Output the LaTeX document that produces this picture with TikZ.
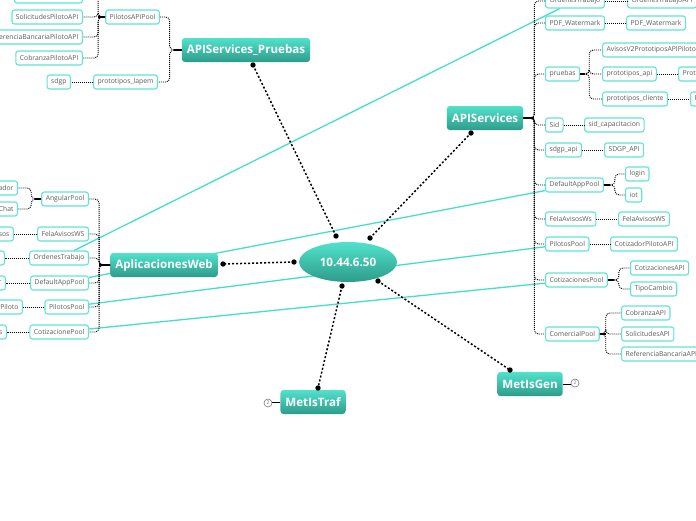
\documentclass[tikz,border=0pt]{standalone}
\usepackage{fontspec}
\setmainfont{Open Sans}
\usetikzlibrary{shapes.geometric}
\definecolor{MapInk}{HTML}{5C5C5C}
\definecolor{MapTeal}{HTML}{50E2CB}
\definecolor{MapTealDark}{HTML}{2E9C8A}
\definecolor{MapEdge}{HTML}{62E4D2}
\definecolor{MapRelation}{HTML}{45DEC8}
\definecolor{MapBadge}{HTML}{7A7A7A}
\pgfdeclarelayer{background}
\pgfsetlayers{background,main}
\tikzset{
  every node/.style={text=MapInk},
  leaf/.style={draw=MapEdge, line width=1.1pt, fill=white, rounded corners=2.5pt,
    minimum height=14pt, inner xsep=4pt, inner ysep=0pt, font=\fontsize{6.8}{7.5}\selectfont},
  topic/.style={rounded corners=3pt, top color=MapTeal, bottom color=MapTealDark,
    minimum height=24pt, inner xsep=5pt, text=white, font=\fontsize{11.6}{13}\selectfont\bfseries},
  root/.style={ellipse, top color=MapTeal, bottom color=MapTealDark, minimum width=98pt,
    minimum height=40pt, inner sep=0pt, text=white, font=\fontsize{11.6}{13}\selectfont\bfseries},
  link/.style={draw=black, line width=1.5pt, dash pattern=on 2pt off 2pt},
  branch/.style={draw=black, line width=0.9pt, dash pattern=on 1pt off 1pt, rounded corners=4pt},
  stub/.style={draw=black, line width=1.6pt},
  relation/.style={draw=MapRelation, line width=1.3pt},
  badge/.style={circle, draw=MapBadge, fill=white, line width=0.6pt, inner sep=0pt,
    minimum size=8pt, font=\fontsize{5}{5}\selectfont, text=MapBadge},
}
\begin{document}
\begin{tikzpicture}[x=1pt, y=-1pt]
  \useasboundingbox (0,0) rectangle (696,520);
  % central server and its five topics
  \node[root] (ip) at (348,262) {10.44.6.50};
  \node[topic] (pru) at (246,50) {APIServices\_Pruebas};
  \node[topic] (api) at (485,118) {APIServices};
  \node[topic] (web) at (164,265) {AplicacionesWeb};
  \node[topic] (gen) at (530,384) {MetIsGen};
  \node[topic] (traf) at (313,402) {MetIsTraf};
  \draw[line width=1pt] (gen.east) -- ++(8,0);
  \draw[line width=1pt] (traf.west) -- ++(-8,0);
  \node[badge] (genBadge) at (575,383) {2};
  \node[badge] (trafBadge) at (268,403) {2};
  % dotted links with round ends
  \coordinate (ipPru) at (336,236);  \coordinate (pruEnd) at (253,65);
  \coordinate (ipApi) at (370,238);  \coordinate (apiEnd) at (471,133);
  \coordinate (ipWeb) at (294,262);  \coordinate (webEnd) at (223,264);
  \coordinate (ipTraf) at (342,286); \coordinate (trafEnd) at (318,388);
  \coordinate (ipGen) at (378,281);  \coordinate (genEnd) at (510,370);
  \foreach \a/\b in {ipPru/pruEnd, ipApi/apiEnd, ipWeb/webEnd, ipTraf/trafEnd, ipGen/genEnd} {
    \draw[link] (\a) -- (\b);
    \fill (\a) circle (2.7pt) (\b) circle (2.7pt);
  }

  % APIServices_Pruebas branch
  \node[leaf, anchor=east] (pPool) at (160,17) {PilotosAPIPool};
  \node[leaf, anchor=east] (pLapem) at (158,82) {prototipos\_lapem};
  \node[leaf, anchor=east] (pCom) at (83,-4) {ComercialPilotoAPI};
  \node[leaf, anchor=east] (pSol) at (83,17) {SolicitudesPilotoAPI};
  \node[leaf, anchor=east] (pRef) at (83,37) {ReferenciaBancariaPilotoAPI};
  \node[leaf, anchor=east] (pCob) at (83,58) {CobranzaPilotoAPI};
  \node[leaf, anchor=east] (pSdgp) at (71,82) {sdgp};
  \foreach \n in {pPool,pLapem} \draw[branch] (pru.west) -- ++(-12,0) |- (\n.east);
  \draw[stub] (pru.west) -- ++(-8,0);
  \foreach \n in {pCom,pSol,pRef,pCob} \draw[branch] (pPool.west) -- ++(-7,0) |- (\n.east);
  \draw[stub] (pPool.west) -- ++(-7,0);
  \draw[branch] (pLapem.west) -- (pSdgp.east);

  % APIServices branch
  \node[leaf, anchor=west] (rOrd) at (545,1) {OrdenesTrabajo};
  \node[leaf, anchor=west] (rOrdKid) at (627,1) {OrdenesTrabajoAPI};
  \node[leaf, anchor=west] (rPdf) at (545,23) {PDF\_Watermark};
  \node[leaf, anchor=west] (rPdfKid) at (626,23) {PDF\_Watermark};
  \node[leaf, anchor=west] (rPru) at (545,74) {pruebas};
  \node[leaf, anchor=west] (rAvi) at (602,50) {AvisosV2PrototiposAPIPiloto};
  \node[leaf, anchor=west] (rPapi) at (602,74) {prototipos\_api};
  \node[leaf, anchor=west] (rPapiKid) at (678,74) {PrototiposAPI};
  \node[leaf, anchor=west] (rPcli) at (602,99) {prototipos\_cliente};
  \node[leaf, anchor=west] (rPcliKid) at (690,99) {PrototiposCliente};
  \node[leaf, anchor=west] (rSid) at (545,125) {Sid};
  \node[leaf, anchor=west] (rSidKid) at (584,125) {sid\_capacitacion};
  \node[leaf, anchor=west] (rSdgp) at (545,150) {sdgp\_api};
  \node[leaf, anchor=west] (rSdgpKid) at (604,150) {SDGP\_API};
  \node[leaf, anchor=west] (rDef) at (545,185) {DefaultAppPool};
  \node[leaf, anchor=west] (rLogin) at (625,174) {login};
  \node[leaf, anchor=west] (rIot) at (625,195) {iot};
  \node[leaf, anchor=west] (rFela) at (545,219) {FelaAvisosWs};
  \node[leaf, anchor=west] (rFelaKid) at (618,219) {FelaAvisosWS};
  \node[leaf, anchor=west] (rPil) at (545,244) {PilotosPool};
  \node[leaf, anchor=west] (rPilKid) at (610,244) {CotizadorPilotoAPI};
  \node[leaf, anchor=west] (rCot) at (545,280) {CotizacionesPool};
  \node[leaf, anchor=west] (rCotApi) at (630,268) {CotizacionesAPI};
  \node[leaf, anchor=west] (rTipo) at (630,289) {TipoCambio};
  \node[leaf, anchor=west] (rCom) at (545,334) {ComercialPool};
  \node[leaf, anchor=west] (rCob) at (621,313) {CobranzaAPI};
  \node[leaf, anchor=west] (rSol) at (621,334) {SolicitudesAPI};
  \node[leaf, anchor=west] (rRef) at (621,354) {ReferenciaBancariaAPI};
  \foreach \n in {rOrd,rPdf,rPru,rSid,rSdgp,rDef,rFela,rPil,rCot,rCom}
    \draw[branch] (api.east) -- ++(11,0) |- (\n.west);
  \draw[stub] (api.east) -- ++(11,0);
  \foreach \a/\b in {rOrd/rOrdKid, rPdf/rPdfKid, rPapi/rPapiKid, rPcli/rPcliKid,
      rSid/rSidKid, rSdgp/rSdgpKid, rFela/rFelaKid, rPil/rPilKid}
    \draw[branch] (\a.east) -- (\b.west);
  \foreach \n in {rAvi,rPapi,rPcli} \draw[branch] (rPru.east) -- ++(9,0) |- (\n.west);
  \foreach \n in {rLogin,rIot} \draw[branch] (rDef.east) -- ++(11,0) |- (\n.west);
  \foreach \n in {rCotApi,rTipo} \draw[branch] (rCot.east) -- ++(11,0) |- (\n.west);
  \foreach \n in {rCob,rSol,rRef} \draw[branch] (rCom.east) -- ++(6,0) |- (\n.west);
  \draw[stub] (rPru.east) -- ++(5,0);
  \draw[stub] (rDef.east) -- ++(6,0);
  \draw[stub] (rCot.east) -- ++(6,0);
  \draw[stub] (rCom.east) -- ++(6,0);

  % AplicacionesWeb branch
  \node[leaf, anchor=east] (lAng) at (89,199) {AngularPool};
  \node[leaf, anchor=east] (lFela) at (89,234) {FelaAvisosWS};
  \node[leaf, anchor=east] (lOrd) at (89,258) {OrdenesTrabajo};
  \node[leaf, anchor=east] (lDef) at (89,283) {DefaultAppPool};
  \node[leaf, anchor=east] (lPil) at (89,307) {PilotosPool};
  \node[leaf, anchor=east] (lCot) at (89,332) {CotizacionePool};
  \node[leaf, anchor=east] (lCotiz) at (18,188) {Cotizador};
  \node[leaf, anchor=east] (lChat) at (18,209) {WebChat};
  \node[leaf, anchor=east] (lFelaKid) at (14,234) {FelaAvisos};
  \node[leaf, anchor=east] (lOrdKid) at (5,258) {Consulta};
  \node[leaf, anchor=east] (lDefKid) at (6,283) {IOT};
  \node[leaf, anchor=east] (lPilKid) at (23,307) {CotizadorPiloto};
  \node[leaf, anchor=east] (lCotKid) at (7,332) {Cotizaciones};
  \foreach \n in {lAng,lFela,lOrd,lDef,lPil,lCot}
    \draw[branch] (web.west) -- ++(-11,0) |- (\n.east);
  \draw[stub] (web.west) -- ++(-11,0);
  \foreach \n in {lCotiz,lChat} \draw[branch] (lAng.west) -- ++(-10,0) |- (\n.east);
  \draw[stub] (lAng.west) -- ++(-6,0);
  \foreach \a/\b in {lFela/lFelaKid, lOrd/lOrdKid, lDef/lDefKid, lPil/lPilKid, lCot/lCotKid}
    \draw[branch] (\a.west) -- (\b.east);

  % relations between matching pools
  \begin{pgfonlayer}{background}
    \foreach \a/\b in {lOrd/rOrd, lDef/rDef, lPil/rPil, lCot/rCot}
      \draw[relation] (\a) -- (\b);
  \end{pgfonlayer}
\end{tikzpicture}
\end{document}
